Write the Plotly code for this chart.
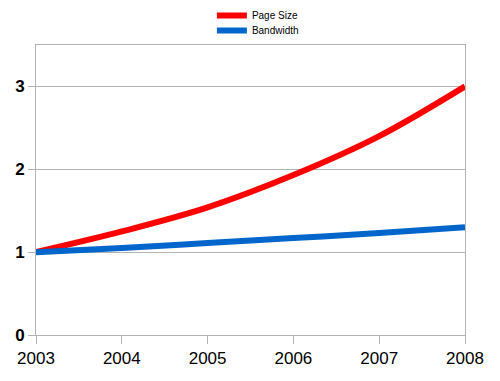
import plotly.graph_objects as go

years = [2003, 2004, 2005, 2006, 2007, 2008]
page_size = [1.0, 1.25, 1.54, 1.93, 2.40, 3.0]
bandwidth = [1.0, 1.05, 1.11, 1.17, 1.23, 1.30]
y_ticks = [0, 1, 2, 3]

grid = "#b3b3b3"

fig = go.Figure()
fig.add_trace(go.Scatter(x=years, y=page_size, mode="lines", name="Page Size", legend="legend",
                         line=dict(color="#ff0000", width=6, shape="spline", smoothing=1.0)))
fig.add_trace(go.Scatter(x=years, y=bandwidth, mode="lines", name="Bandwidth", legend="legend2",
                         line=dict(color="#0066cc", width=6, shape="spline", smoothing=1.0)))

leg_common = dict(x=0.41, xanchor="left", yanchor="top", yref="container",
                  orientation="v", font=dict(size=10), itemwidth=30,
                  bgcolor="rgba(0,0,0,0)")

fig.update_layout(
    width=500, height=381,
    margin=dict(l=36, r=35, t=45, b=46),
    paper_bgcolor="white", plot_bgcolor="white",
    font=dict(family="Liberation Sans, Arial, sans-serif", color="black"),
    showlegend=True,
    legend=dict(y=1 - 1 / 381, **leg_common),
    legend2=dict(y=1 - 16 / 381, **leg_common),
    xaxis=dict(range=[2003, 2008], tickmode="array", tickvals=years,
               ticktext=[str(y) for y in years], showgrid=False, automargin=False,
               showline=True, linecolor=grid, linewidth=1, mirror=True,
               ticks="outside", ticklen=8, tickcolor=grid,
               tickfont=dict(size=17), zeroline=False),
    yaxis=dict(range=[0, 3.5], tickmode="array", tickvals=y_ticks,
               ticktext=["<b>%d</b>" % v for v in y_ticks], automargin=False,
               showgrid=True, gridcolor=grid, gridwidth=1,
               showline=True, linecolor=grid, linewidth=1, mirror=True,
               ticks="outside", ticklen=7, tickcolor=grid,
               tickfont=dict(size=17), zeroline=False),
)
fig.write_html("out.html", config={"displayModeBar": False},
               post_script="document.body.style.margin='0';document.body.style.overflow='hidden';")
